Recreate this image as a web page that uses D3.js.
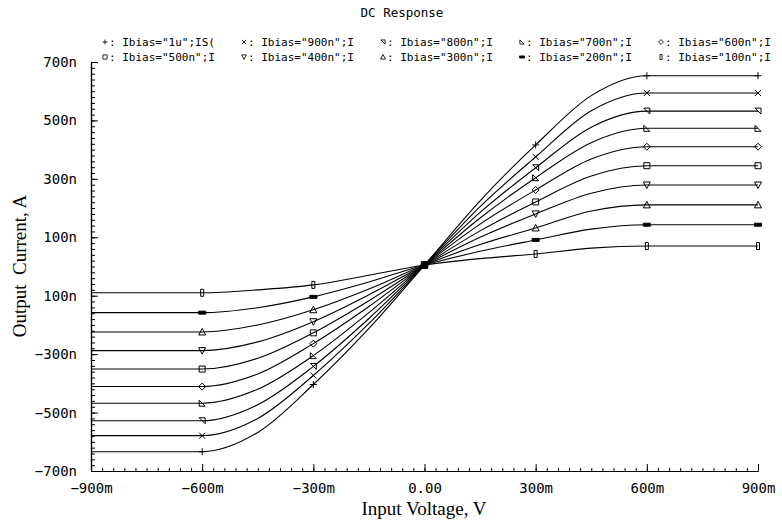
<!DOCTYPE html>
<html>
<head>
<meta charset="utf-8">
<script src="https://cdn.jsdelivr.net/npm/d3@7"></script>
<style>
  body { margin: 0; background: #fff; }
  svg { display: block; }
</style>
</head>
<body>
<div id="chart"></div>
<script>
// input voltage points, mV
var vin = [-900, -750, -600, -450, -300, -150, 0, 150, 300, 450, 600, 750, 900];

// output current per bias, nA
var seriesNames = ['Ibias="1u";IS(', 'Ibias="900n";I', 'Ibias="800n";I', 'Ibias="700n";I', 'Ibias="600n";I',
                   'Ibias="500n";I', 'Ibias="400n";I', 'Ibias="300n";I', 'Ibias="200n";I', 'Ibias="100n";I'];
var i1u   = [-634, -634, -634, -568, -404, -212, 5, 225, 416, 585, 653, 653, 653];
var i900n = [-579, -579, -579, -520, -373, -195, 5, 205, 375, 533, 594, 594, 594];
var i800n = [-528, -528, -528, -473, -342, -178, 5, 185, 338, 477, 532, 532, 532];
var i700n = [-468, -468, -468, -420, -305, -158, 5, 166, 304, 424, 473, 473, 473];
var i600n = [-411, -411, -411, -368, -264, -137, 5, 145, 262, 368, 410, 410, 410];
var i500n = [-351, -351, -351, -314, -227, -117, 5, 122, 221, 310, 345, 345, 345];
var i400n = [-288, -288, -288, -258, -189, -97, 5, 100, 180, 251, 279, 279, 279];
var i300n = [-224, -224, -224, -200, -148, -77, 5, 75, 132, 190, 211, 211, 211];
var i200n = [-158, -158, -158, -141, -104, -53, 5, 52, 91, 128, 143, 143, 143];
var i100n = [-90, -90, -90, -80, -63, -30, 5, 27, 43, 63, 70, 70, 70];
var seriesValues = [i1u, i900n, i800n, i700n, i600n, i500n, i400n, i300n, i200n, i100n];

var markerAt = [-600, -300, 0, 300, 600, 900];

var xTickVals = [-900, -600, -300, 0, 300, 600, 900];
var xTickLabels = ['\u2212900m', '\u2212600m', '\u2212300m', '0.00', '300m', '600m', '900m'];
var yTickVals = [700, 500, 300, 100, -100, -300, -500, -700];
var yTickLabels = ['700n', '500n', '300n', '100n', '100n', '\u2212300n', '\u2212500n', '\u2212700n'];

var width = 782, height = 526;
var margin = {left: 91, right: 24, top: 62, bottom: 55};

var svg = d3.select('#chart').append('svg')
    .attr('width', width).attr('height', height);

var x = d3.scaleLinear().domain([-900, 900]).range([margin.left, width - margin.right]);
var y = d3.scaleLinear().domain([-700, 700]).range([height - margin.bottom, margin.top]);

var mono = '"DejaVu Sans Mono", monospace';
var serif = '"Liberation Serif", "DejaVu Serif", serif';

// title
svg.append('text')
    .attr('x', 402).attr('y', 17)
    .attr('text-anchor', 'middle')
    .style('font-family', mono).style('font-size', '12.5px')
    .text('DC Response');

// marker shapes
function markerPath(k) {
  switch (k) {
    case 0: return 'M-3.5,0H3.5M0,-3.5V3.5';
    case 1: return 'M-3,-3L3,3M-3,3L3,-3';
    case 2: return 'M-3,-3H3V3Z';
    case 3: return 'M-3,-3V3H3Z';
    case 4: return 'M0,-3.5L3.5,0L0,3.5L-3.5,0Z';
    case 5: return 'M-3,-3H3V3H-3Z';
    case 6: return 'M-3.5,-3H3.5L0,3.5Z';
    case 7: return 'M-3.5,3H3.5L0,-3.5Z';
    case 8: return 'M-3.5,-1.5H3.5V1.5H-3.5Z';
    case 9: return 'M-1.5,-3.5H1.5V3.5H-1.5Z';
  }
}
function markerFill(k) { return (k === 8) ? '#000' : 'none'; }

// legend
var legend = svg.append('g').style('font-family', mono).style('font-size', '11px');
seriesNames.forEach(function(name, i) {
  var col = i % 5, row = Math.floor(i / 5);
  var lx = 105 + col * 139, ly = 46 + row * 15;
  legend.append('path')
      .attr('transform', 'translate(' + lx + ',' + (ly - 4) + ') scale(0.7)')
      .attr('d', markerPath(i))
      .attr('fill', markerFill(i)).attr('stroke', '#000').attr('stroke-width', 1.2);
  legend.append('text')
      .attr('x', lx + 4).attr('y', ly)
      .text(': ' + name);
});

// axes
var xAxis = d3.axisBottom(x)
    .tickValues(xTickVals)
    .tickFormat(function(d, i) { return xTickLabels[i]; })
    .tickSizeInner(-7).tickSizeOuter(0).tickPadding(12);
var xMinor = d3.axisBottom(x)
    .tickValues(d3.range(-900, 901, 30))
    .tickFormat('').tickSizeInner(-3).tickSizeOuter(0);

var yAxis = d3.axisLeft(y)
    .tickValues(yTickVals)
    .tickFormat(function(d, i) { return yTickLabels[i]; })
    .tickSizeInner(-7).tickSizeOuter(0).tickPadding(14);
var yMinor = d3.axisLeft(y)
    .tickValues(d3.range(-700, 701, 20))
    .tickFormat('').tickSizeInner(-4).tickSizeOuter(0);

function styleAxis(g) {
  g.select('.domain').attr('stroke', '#000').attr('stroke-width', 1.2);
  g.selectAll('.tick line').attr('stroke', '#000');
  g.selectAll('.tick text').style('font-family', mono).style('font-size', '14px').attr('fill', '#000');
}

svg.append('g').attr('transform', 'translate(0,' + y(-700) + ')').call(xMinor).call(styleAxis);
svg.append('g').attr('transform', 'translate(0,' + y(-700) + ')').call(xAxis).call(styleAxis);
svg.append('g').attr('transform', 'translate(' + x(-900) + ',0)').call(yMinor).call(styleAxis);
svg.append('g').attr('transform', 'translate(' + x(-900) + ',0)').call(yAxis).call(styleAxis);

// axis titles
svg.append('text')
    .attr('x', 424).attr('y', 515)
    .attr('text-anchor', 'middle')
    .style('font-family', serif).style('font-size', '19px')
    .text('Input Voltage, V');
svg.append('text')
    .attr('transform', 'translate(26,' + 266 + ') rotate(-90)')
    .attr('text-anchor', 'middle')
    .style('font-family', serif).style('font-size', '19px')
    .style('white-space', 'pre')
    .text('Output  Current, A');

// curves
var line = d3.line()
    .x(function(d) { return x(d[0]); })
    .y(function(d) { return y(d[1]); })
    .curve(d3.curveMonotoneX);

var plot = svg.append('g');
seriesValues.forEach(function(vals, k) {
  var pts = vin.map(function(v, i) { return [v, vals[i]]; });
  plot.append('path')
      .datum(pts)
      .attr('d', line)
      .attr('fill', 'none').attr('stroke', '#000').attr('stroke-width', 1.1);

  plot.selectAll('.m' + k)
      .data(pts.filter(function(p) { return markerAt.indexOf(p[0]) >= 0; }))
      .enter().append('path')
      .attr('class', 'm' + k)
      .attr('transform', function(p) { return 'translate(' + x(p[0]) + ',' + y(p[1]) + ')'; })
      .attr('d', markerPath(k))
      .attr('fill', markerFill(k)).attr('stroke', '#000').attr('stroke-width', 1);
});
</script>
</body>
</html>
